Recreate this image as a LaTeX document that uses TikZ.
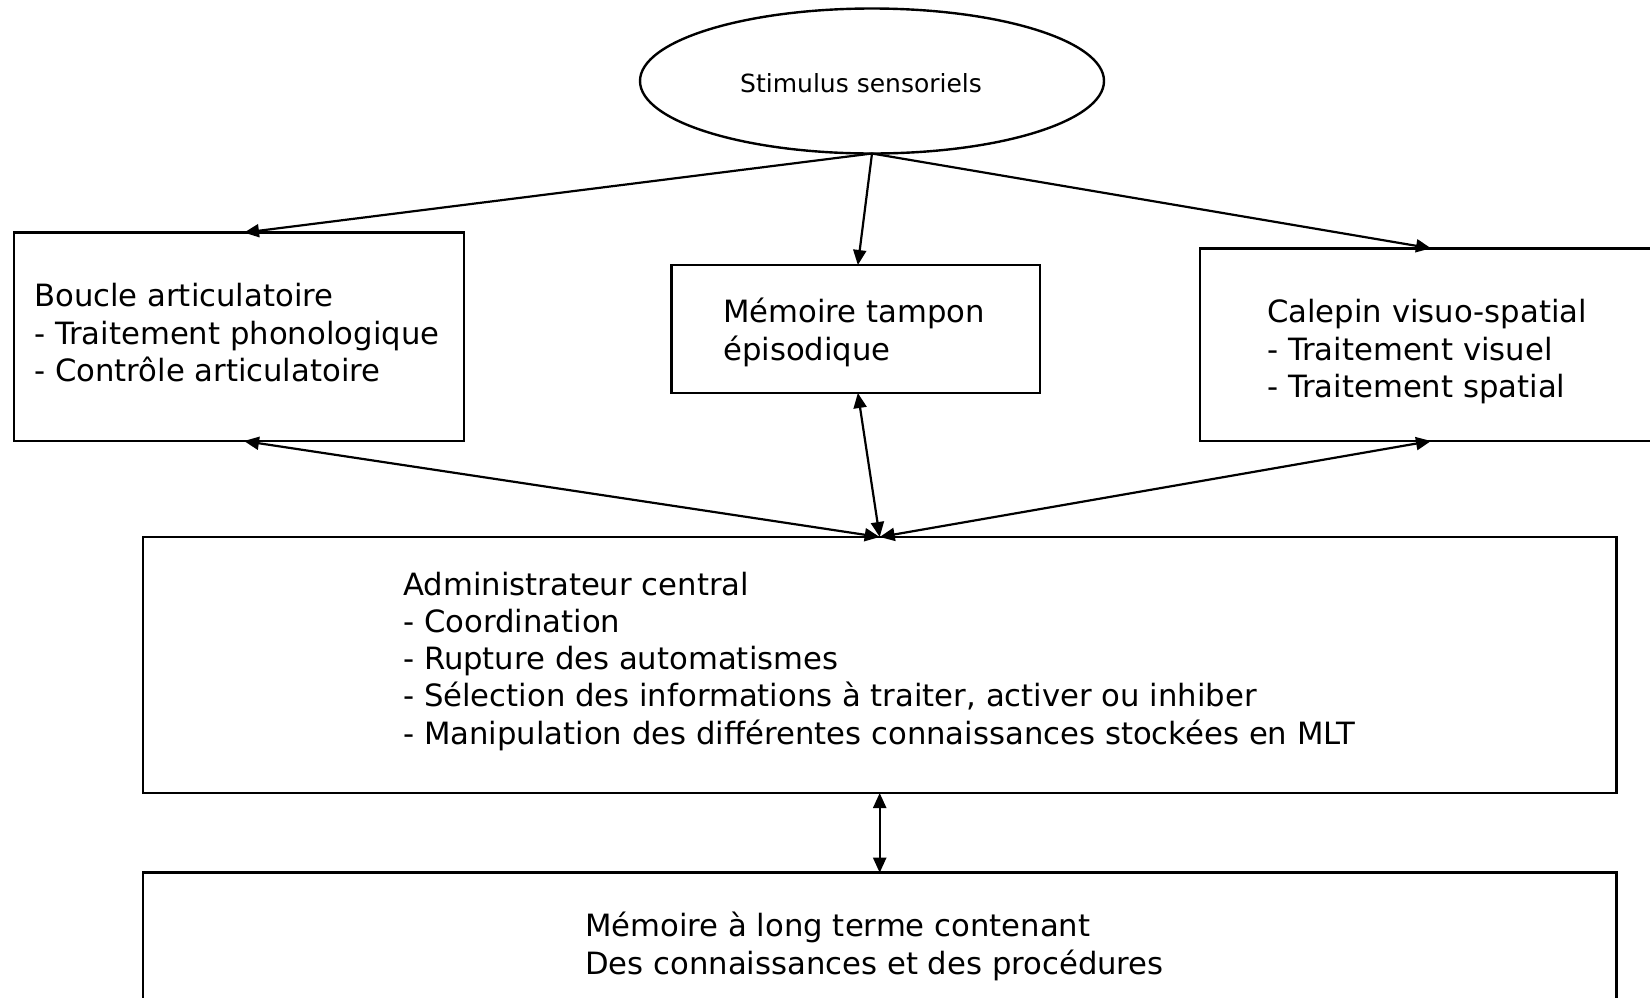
\documentclass[tikz,border=0pt]{standalone}
\usepackage{fontspec}
\setmainfont{DejaVu Sans}
\usetikzlibrary{arrows.meta,shapes.geometric}
\newcommand\txtblock[1]{\begin{tabular}[t]{@{}l@{}}#1\end{tabular}}
\begin{document}
\begin{tikzpicture}[x=1pt,y=-1pt,
  boxshape/.style={draw, line width=2.6pt, rectangle, inner sep=0pt, outer sep=0pt, anchor=north west},
  lbl/.style={anchor=base west, inner sep=0pt, font=\fontsize{30.7}{37.3}\selectfont},
  conn/.style={line width=2.2pt, -{Triangle[length=15pt,width=13pt]}},
  biconn/.style={line width=2.2pt, {Triangle[length=15pt,width=13pt]}-{Triangle[length=15pt,width=13pt]}}]
\fill[white] (0,0) rectangle (1650,997);
\useasboundingbox (0,0) rectangle (1650,997);

\node[draw, ellipse, line width=2.4pt, minimum width=464pt, minimum height=145pt, inner sep=0pt, outer sep=0pt] (stim) at (872,81) {};
\node[anchor=base west, inner sep=0pt, font=\fontsize{25}{30}\selectfont] (tstim) at (740,92.7) {Stimulus sensoriels};

\node[boxshape, minimum width=450pt, minimum height=208.4pt] (boucle) at (14,232.6) {};
\node[boxshape, minimum width=368.3pt, minimum height=128pt] (tampon) at (671.7,265) {};
\node[boxshape, minimum width=462pt, minimum height=192.7pt] (calepin) at (1200,248.3) {};
\node[boxshape, minimum width=1473.4pt, minimum height=256pt] (admin) at (143,537) {};
\node[boxshape, minimum width=1473.4pt, minimum height=150pt] (mlt) at (143,872.7) {};

\node[lbl] (tboucle) at (34,306.7) {\txtblock{Boucle articulatoire\\- Traitement phonologique\\- Contrôle articulatoire}};
\node[lbl] (ttampon) at (723,322.7) {\txtblock{Mémoire tampon\\épisodique}};
\node[lbl] (tcalepin) at (1267,322.7) {\txtblock{Calepin visuo-spatial\\- Traitement visuel\\- Traitement spatial}};
\node[lbl] (tadmin) at (403,595) {\txtblock{Administrateur central\\- Coordination\\- Rupture des automatismes\\- Sélection des informations à traiter, activer ou inhiber\\- Manipulation des différentes connaissances stockées en MLT}};
\node[lbl] (tmlt) at (585,936.7) {\txtblock{Mémoire à long terme contenant\\Des connaissances et des procédures}};

\draw[conn] (stim.south) -- ([xshift=5pt]boucle.north);
\draw[conn] (stim.south) -- ([xshift=2pt]tampon.north);
\draw[conn] (stim.south) -- (calepin.north);
\draw[biconn] ([xshift=5pt]boucle.south) -- (admin.north);
\draw[biconn] ([xshift=2pt]tampon.south) -- (admin.north);
\draw[biconn] (calepin.south) -- (admin.north);
\draw[biconn] (admin.south) -- (mlt.north);
\end{tikzpicture}
\end{document}
